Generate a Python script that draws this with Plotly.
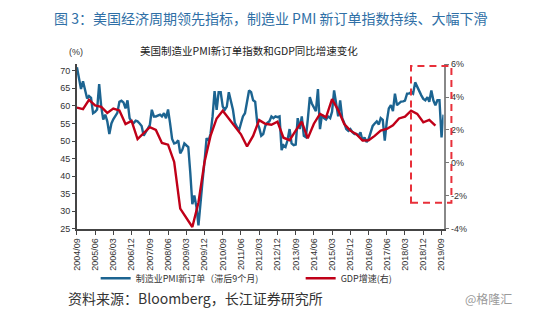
import pandas as pd
import plotly.graph_objects as go

# US manufacturing PMI new orders (shifted forward 9 months), monthly from 2004/09
pmi_start = "2004-09-01"
pmi_new_orders = [
    71.0, 67.5, 64.8, 67.0,
    64.4, 62.1, 62.8, 62.3, 57.9, 58.3, 59.0, 66.2, 59.8, 56.1, 57.5, 55.6,
    52.0, 55.0, 56.2, 57.0, 58.0, 61.2, 61.5, 61.0, 59.3, 61.6, 56.5, 55.5,
    55.1, 55.8, 55.6, 55.0, 54.3, 51.5, 52.5, 53.5, 54.5, 58.9, 57.0, 57.0,
    57.3, 57.5, 57.0, 57.9, 56.5, 59.0, 55.1, 50.6, 49.3, 49.5, 50.2, 46.5,
    47.5, 49.3, 48.8, 48.3, 41.0, 32.0, 34.5, 31.3, 26.0, 33.0, 38.6, 44.1,
    50.8, 50.2, 52.0, 57.0, 64.2, 58.9, 63.9, 63.9, 59.8, 58.9, 59.8, 63.9,
    61.6, 58.9, 55.2, 53.8, 52.9, 55.0, 57.0, 57.9, 61.6, 64.4, 63.9, 61.6,
    61.2, 55.2, 53.8, 51.5, 52.0, 54.3, 55.2, 55.6, 57.0, 56.5, 57.0, 56.8,
    57.0, 47.4, 48.8, 48.3, 50.2, 53.4, 49.3, 48.8, 49.0, 56.5, 53.4, 57.0,
    51.5, 51.1, 56.0, 62.5, 60.7, 59.5, 58.5, 64.8, 53.4, 57.5, 56.5, 56.1,
    57.0, 56.5, 58.3, 64.4, 61.2, 57.0, 61.6, 56.5, 55.1, 53.4, 52.9, 53.4,
    52.5, 52.0, 52.0, 51.5, 52.5, 50.1, 51.0, 49.7, 50.6, 52.5, 54.3, 55.0,
    55.6, 54.7, 56.5, 56.0, 50.1, 55.6, 59.3, 60.2, 58.5, 63.5, 60.2, 60.7,
    61.2, 61.3, 61.5, 63.5, 63.5, 63.9, 63.5, 66.7, 65.3, 64.4, 63.0, 62.0,
    61.6, 62.5, 61.2, 64.4, 61.6, 60.2, 61.6, 61.6, 51.0, 57.5,
]

# US real GDP growth, year over year (%), quarterly from 2004/09
gdp_start = "2004-09-01"
gdp_yoy = [
    3.36, 3.26, 3.83, 3.49, 3.40, 3.04, 3.30, 3.19, 2.36, 2.55,
    1.45, 1.81, 2.17, 2.00, 1.21, 1.11, 0.06, -2.77, -3.36, -3.89,
    -2.40, 0.06, 1.64, 2.70, 3.17, 2.70, 2.28, 1.74, 1.00, 1.64,
    2.60, 2.38, 2.32, 2.51, 1.53, 1.38, 1.96, 2.51, 1.49, 2.38,
    2.98, 2.77, 3.87, 3.21, 2.36, 1.96, 1.74, 1.36, 1.38, 1.64,
    1.96, 2.06, 2.28, 2.70, 2.81, 3.17, 2.98, 2.47, 2.62, 2.26,
]

# x-axis tick labels every 9 months
tick_labels = [
    "2004/09", "2005/06", "2006/03", "2006/12", "2007/09", "2008/06", "2009/03",
    "2009/12", "2010/09", "2011/06", "2012/03", "2012/12", "2013/09", "2014/06",
    "2015/03", "2015/12", "2016/09", "2017/06", "2018/03", "2018/12", "2019/09",
]
left_ticks = [25, 30, 35, 40, 45, 50, 55, 60, 65, 70]
right_ticks = [-4, -2, 0, 2, 4, 6]
right_tick_labels = ["-4%", "-2%", "0%", "2%", "4%", "6%"]

pmi_dates = pd.date_range(pmi_start, periods=len(pmi_new_orders), freq="MS")
gdp_dates = pd.date_range(gdp_start, periods=len(gdp_yoy), freq="3MS")
tick_vals = [pd.Timestamp(t.replace("/", "-") + "-01") for t in tick_labels]

W, H = 550, 322
CJK = "Noto Sans CJK SC"
LAT = "Liberation Sans"
BLUE = "#1c6491"
RED = "#c00018"

fig = go.Figure()
fig.add_trace(go.Scatter(
    x=pmi_dates, y=pmi_new_orders, mode="lines",
    name="制造业PMI新订单（滞后9个月)",
    line=dict(color=BLUE, width=2.4), yaxis="y",
))
fig.add_trace(go.Scatter(
    x=gdp_dates, y=gdp_yoy, mode="lines",
    name="GDP增速(右)",
    line=dict(color=RED, width=2.4), yaxis="y2",
))

def px_x(p):
    return p / W

def px_y(p):
    return 1 - p / H

fig.update_layout(
    width=W, height=H,
    margin=dict(l=0, r=0, t=0, b=0),
    paper_bgcolor="white", plot_bgcolor="white",
    font=dict(family=LAT, size=9, color="#333333"),
    showlegend=True,
    legend=dict(
        orientation="h", x=px_x(92), y=px_y(282), xanchor="left", yanchor="middle",
        font=dict(family=CJK, size=9, color="#333333"),
        entrywidth=160, entrywidthmode="pixels",
        itemwidth=30, bgcolor="rgba(0,0,0,0)",
    ),
    xaxis=dict(
        type="date", domain=[px_x(73), px_x(445)],
        range=[pmi_dates[0], pmi_dates[-1]],
        tickvals=tick_vals, ticktext=tick_labels, tickangle=-90,
        ticks="outside", ticklen=4, tickcolor="#444444",
        showline=True, linecolor="#444444", linewidth=1.5,
        showgrid=False, zeroline=False,
        tickfont=dict(family=LAT, size=9, color="#333333"),
    ),
    yaxis=dict(
        domain=[px_y(231), px_y(61)], range=[25, 71.9],
        tickvals=left_ticks, ticks="outside", ticklen=3, tickcolor="#444444",
        showline=True, linecolor="#444444", linewidth=1.5,
        showgrid=False, zeroline=False,
        tickfont=dict(family=LAT, size=9, color="#333333"),
    ),
    yaxis2=dict(
        overlaying="y", side="right", anchor="x", range=[-4, 6],
        tickvals=right_ticks, ticktext=right_tick_labels,
        ticks="outside", ticklen=4, tickcolor="#777777",
        showline=True, linecolor="#888888", linewidth=1.5,
        showgrid=False, zeroline=False,
        tickfont=dict(family=LAT, size=9, color="#333333"),
    ),
)

# dashed highlight box over the latest period
fig.add_shape(
    type="rect", xref="paper", yref="paper",
    x0=px_x(412), x1=px_x(453), y0=px_y(204), y1=px_y(63),
    line=dict(color="#e8303a", width=2, dash="7px,5px"),
    fillcolor="rgba(0,0,0,0)",
)

annotations = [
    dict(text="图 3：美国经济周期领先指标，制造业 PMI 新订单指数持续、大幅下滑",
         x=px_x(48), y=px_y(13), xanchor="left", yanchor="middle",
         font=dict(family=CJK, size=14, color="#2f6fa6")),
    dict(text="美国制造业PMI新订单指数和GDP同比增速变化",
         x=px_x(248), y=px_y(47), xanchor="center", yanchor="middle",
         font=dict(family=CJK, size=10.5, color="#222222")),
    dict(text="(%)", x=px_x(72), y=px_y(48), xanchor="center", yanchor="middle",
         font=dict(family=LAT, size=9, color="#333333")),
    dict(text="资料来源：Bloomberg，长江证券研究所",
         x=px_x(62), y=px_y(302), xanchor="left", yanchor="middle",
         font=dict(family=CJK, size=14, color="#333333")),
    dict(text="@格隆汇", x=px_x(517), y=px_y(303), xanchor="right", yanchor="middle",
         font=dict(family=CJK, size=12, color="#9a9a9a")),
]
for a in annotations:
    a.update(xref="paper", yref="paper", showarrow=False)
fig.update_layout(annotations=annotations)

fig.write_html("out.html")
